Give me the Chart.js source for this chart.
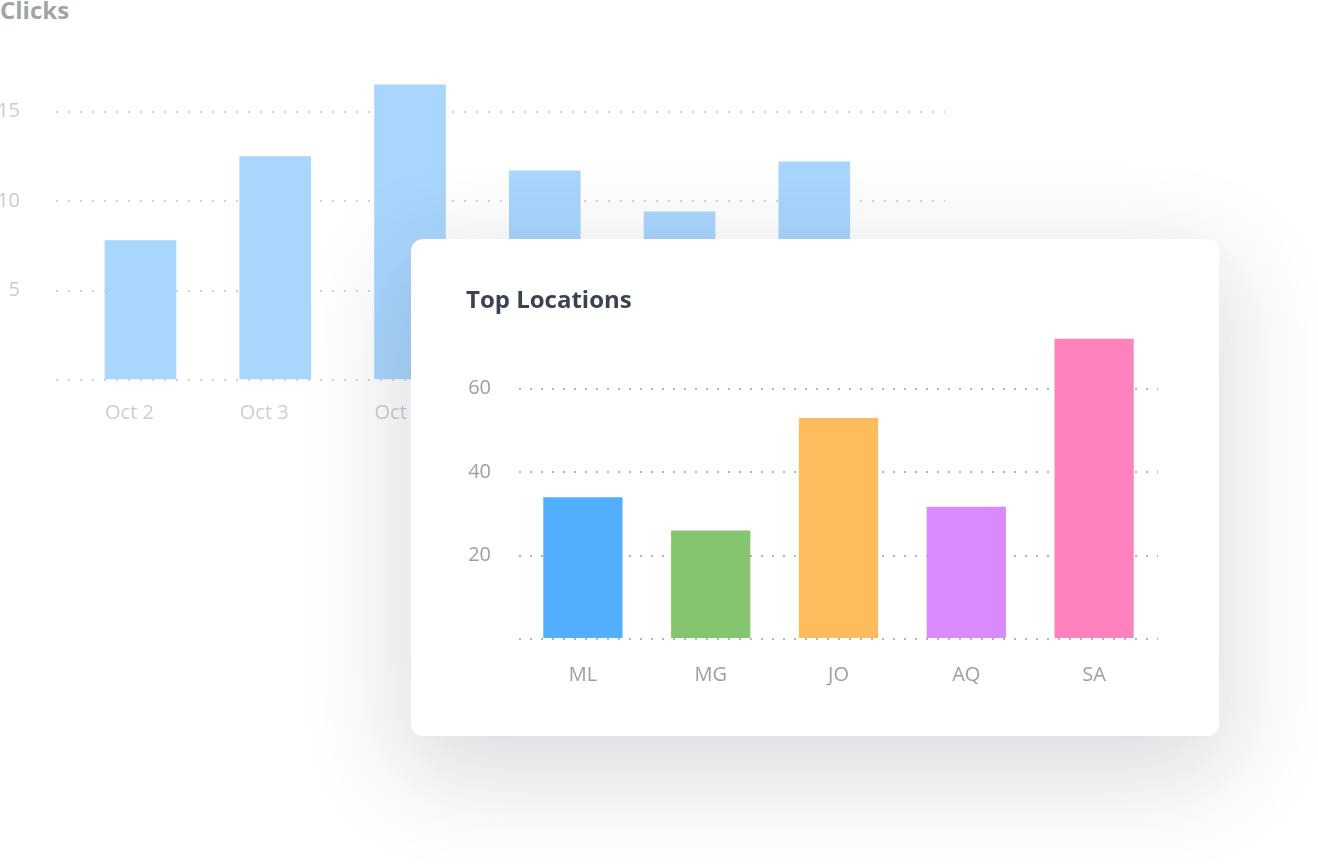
<!DOCTYPE html>
<html>
<head>
<meta charset="utf-8">
<script src="https://cdn.jsdelivr.net/npm/chart.js@4.4.1/dist/chart.umd.min.js"></script>
<style>
  html, body { margin: 0; padding: 0; background: #ffffff; }
  body { width: 1318px; height: 864px; position: relative; overflow: hidden; font-family: "Open Sans", sans-serif; }
  #clicksTitle { position: absolute; left: 0; top: -2px; font: 700 24px/1 "Open Sans", sans-serif; color: #9fa3aa; }
  #bgWrap { position: absolute; left: 0; top: 0; width: 960px; height: 440px; }
  #card { position: absolute; left: 411px; top: 239px; width: 808px; height: 497px; background: #fff; border-radius: 12px;
          box-shadow: 0 30px 100px 10px rgba(30, 40, 60, 0.16); }
  #cardTitle { position: absolute; left: 55px; top: 48px; font: 700 24px/1 "Open Sans", sans-serif; color: #3c4350; }
  #cardWrap { position: absolute; left: 0; top: 0; width: 808px; height: 497px; }
</style>
</head>
<body>
<div id="clicksTitle">Clicks</div>
<div id="bgWrap"><canvas id="bgChart"></canvas></div>
<div id="card">
  <div id="cardWrap"><canvas id="locChart"></canvas></div>
  <div id="cardTitle">Top Locations</div>
</div>
<script>
// ---- Clicks (background) ----
const clickDays = ['Oct 2', 'Oct 3', 'Oct 4', 'Oct 5', 'Oct 6', 'Oct 7'];
const clickValues = [7.8, 12.5, 16.5, 11.7, 9.4, 12.2];
const clickTicks = [5, 10, 15];

// ---- Top Locations (card) ----
const locCodes = ['ML', 'MG', 'JO', 'AQ', 'SA'];
const locValues = [34, 26, 53, 31.7, 72];
const locColors = ['#52aefe', '#86c56f', '#ffbc5c', '#d88afe', '#ff82bf'];
const locTicks = [20, 40, 60];

Chart.defaults.animation = false;
Chart.defaults.font.family = '"Open Sans", sans-serif';

new Chart(document.getElementById('bgChart'), {
  type: 'bar',
  data: {
    datasets: [{
      data: clickValues.map((v, i) => ({ x: i + 1, y: v })),
      backgroundColor: '#a9d6fd',
      borderWidth: 0,
      barThickness: 71
    }]
  },
  options: {
    responsive: true,
    maintainAspectRatio: false,
    layout: { padding: { top: 76, right: 15, left: 0, bottom: 0 } },
    plugins: { legend: { display: false }, tooltip: { enabled: false } },
    scales: {
      x: {
        type: 'linear',
        offset: false,
        min: 0.373,
        max: 6.97,
        afterFit: s => { s.height = 60; },
        grid: { display: false, offset: false },
        border: { display: false },
        ticks: {
          stepSize: 1,
          includeBounds: false,
          autoSkip: false,
          maxRotation: 0,
          padding: 13,
          labelOffset: -11,
          color: '#cbced3',
          font: { size: 20 },
          callback: v => clickDays[v - 1] ?? ''
        }
      },
      y: {
        min: 0,
        max: 17,
        afterFit: s => { s.width = 56; },
        afterBuildTicks: s => { s.ticks = [0, ...clickTicks].map(v => ({ value: v })); },
        grid: { color: '#d2d3d6', lineWidth: 2, drawTicks: false },
        border: { display: false, dash: [2, 10] },
        ticks: {
          padding: 36,
          color: '#c9ccd1',
          font: { size: 20 },
          callback: v => (v === 0 ? '' : String(v))
        }
      }
    }
  }
});

new Chart(document.getElementById('locChart'), {
  type: 'bar',
  data: {
    labels: locCodes,
    datasets: [{
      data: locValues,
      backgroundColor: locColors,
      borderWidth: 0,
      categoryPercentage: 1,
      barPercentage: 0.62
    }]
  },
  options: {
    responsive: true,
    maintainAspectRatio: false,
    layout: { padding: { top: 83, right: 61, left: 0, bottom: 0 } },
    plugins: { legend: { display: false }, tooltip: { enabled: false } },
    scales: {
      x: {
        afterFit: s => { s.height = 97; },
        grid: { display: false },
        border: { display: false },
        ticks: { padding: 16, color: '#9c9fa6', font: { size: 20 }, maxRotation: 0 }
      },
      y: {
        min: 0,
        max: 76,
        afterFit: s => { s.width = 108; },
        afterBuildTicks: s => { s.ticks = [0, ...locTicks].map(v => ({ value: v })); },
        grid: { color: '#b3b5b9', lineWidth: 2, drawTicks: false },
        border: { display: false, dash: [2, 9] },
        ticks: {
          padding: 28,
          color: '#9c9fa6',
          font: { size: 20 },
          callback: v => (v === 0 ? '' : String(v))
        }
      }
    }
  }
});
</script>
</body>
</html>
